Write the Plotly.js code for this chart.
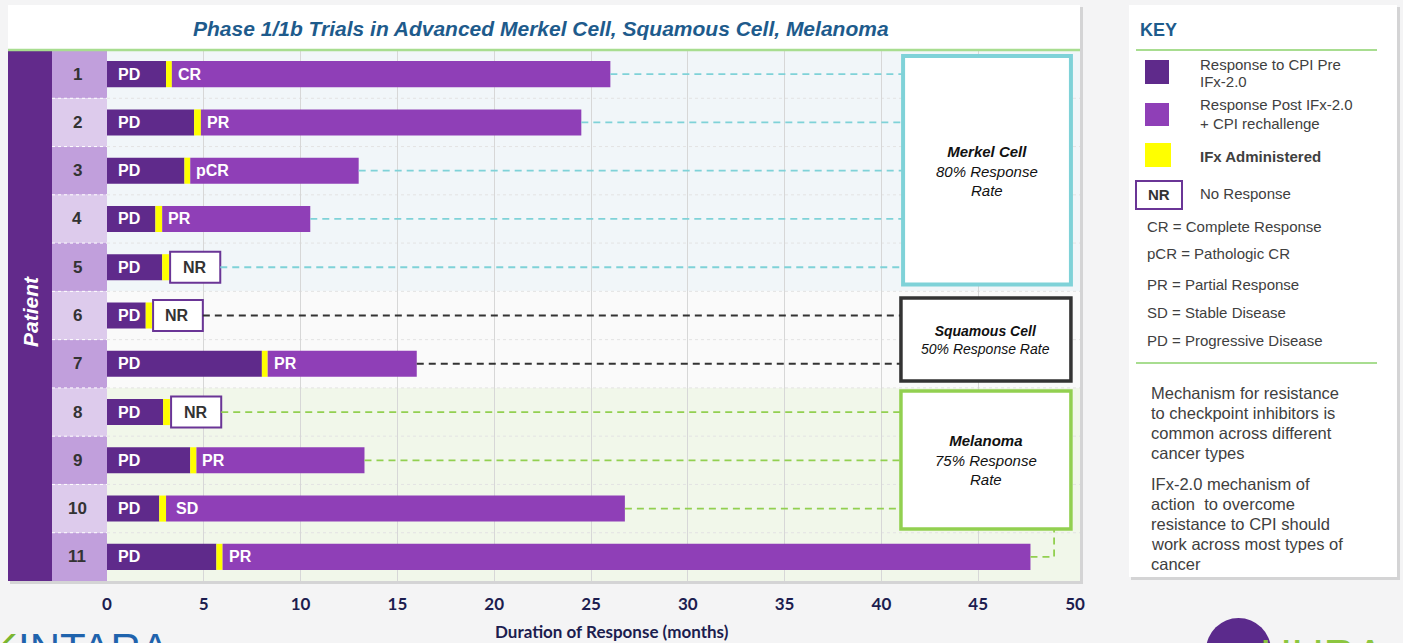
<!DOCTYPE html>
<html><head><meta charset="utf-8">
<script src="https://cdn.plot.ly/plotly-3.0.1.min.js"></script>
<style>html,body{margin:0;padding:0;background:#f4f4f5;overflow:hidden}#chart{width:1403px;height:643px;}</style>
</head><body><div id="chart"></div>
<script>
// ---------------- DATA ----------------
const patients = [1, 2, 3, 4, 5, 6, 7, 8, 9, 10, 11];
const preCpiEnd = [3.05, 4.5, 4.0, 2.5, 2.85, 2.0, 8.0, 2.9, 4.3, 2.7, 5.65];      // response to CPI pre IFx-2.0 (PD)
const ifxEnd = [3.35, 4.85, 4.3, 2.85, 3.2, 2.32, 8.3, 3.25, 4.62, 3.05, 5.97];    // IFx administered
const responseEnd = [26.0, 24.5, 13.0, 10.5, 5.85, 4.95, 16.0, 5.9, 13.3, 26.75, 47.7];
const preLabels = ['PD','PD','PD','PD','PD','PD','PD','PD','PD','PD','PD'];
const responseLabels = ['CR','PR','pCR','PR','NR','NR','PR','NR','PR','SD','PR'];
const cancerGroup = [0,0,0,0,0,1,1,2,2,2,2];
const groupNames = ['Merkel Cell', 'Squamous Cell', 'Melanoma'];
const groupRates = ['80% Response<br>Rate', '50% Response Rate', '75% Response<br>Rate'];
const xTicks = [0, 5, 10, 15, 20, 25, 30, 35, 40, 45, 50];
const keyItems = ['Response to CPI Pre<br>IFx-2.0', 'Response Post IFx-2.0<br>+ CPI rechallenge', '<b>IFx Administered</b>', 'No Response'];
const keyDefs = ['CR = Complete Response', 'pCR = Pathologic CR', 'PR = Partial Response', 'SD = Stable Disease', 'PD = Progressive Disease'];
const keyNotes = [
  ['Mechanism for resistance', 'to checkpoint inhibitors is', 'common across different', 'cancer types'],
  ['IFx-2.0 mechanism of', 'action  to overcome', 'resistance to CPI should', 'work across most types of', 'cancer']
];

// ---------------- STYLE ----------------
const DARK = '#5f2a8b', LIGHT = '#8f3fb7', YEL = '#ffff00', NRLINE = '#6a3596';
const FONT = 'Liberation Sans, Arial, sans-serif';
const groupLine = ['#7fd2d8', '#333333', '#92d050'];
const groupBg = ['#f1f6f9', '#fafafa', '#f1f7ea'];
// box positions (layout, in data units)
const boxPos = [
  {x0: 41.12, x1: 49.79, y0: 0.624, y1: 5.358, w: 4, ty: 3.0},
  {x0: 41.01, x1: 49.79, y0: 5.638, y1: 7.357, w: 3.5, ty: 6.5},
  {x0: 41.01, x1: 49.79, y0: 7.564, y1: 10.423, w: 3.5, ty: 9.0}
];
const elbowX = 48.92;

const L = 107, R = 328, T = 50, B = 62, W = 1403, H = 643;
const PW = W - L - R, PH = H - T - B;
const PX = px => (px - L) / PW;
const PY = py => (H - B - py) / PH;

// ---------------- TRACES ----------------
const traces = [];
traces.push({type:'bar', orientation:'h', y: patients, x: preCpiEnd, base: 0, width: 0.54,
  marker:{color: DARK, line:{width:0}}, hoverinfo:'skip', showlegend:false});
traces.push({type:'bar', orientation:'h', y: patients, x: ifxEnd.map((v,i)=>v-preCpiEnd[i]), base: preCpiEnd, width: 0.54,
  marker:{color: YEL, line:{width:0}}, hoverinfo:'skip', showlegend:false});
const respIdx = patients.map((p,i)=>i).filter(i=>responseLabels[i] !== 'NR');
const nrIdx = patients.map((p,i)=>i).filter(i=>responseLabels[i] === 'NR');
traces.push({type:'bar', orientation:'h', y: respIdx.map(i=>patients[i]), x: respIdx.map(i=>responseEnd[i]-ifxEnd[i]),
  base: respIdx.map(i=>ifxEnd[i]), width: 0.54, marker:{color: LIGHT, line:{width:0}}, hoverinfo:'skip', showlegend:false});
traces.push({type:'bar', orientation:'h', y: nrIdx.map(i=>patients[i]), x: nrIdx.map(i=>responseEnd[i]-ifxEnd[i]-0.06),
  base: nrIdx.map(i=>ifxEnd[i]+0.06), width: 0.64, marker:{color: '#ffffff', line:{width:2, color: NRLINE}}, hoverinfo:'skip', showlegend:false});

// connectors
for (let g = 0; g < 3; g++) {
  const xs = [], ys = [];
  patients.forEach((p,i)=>{
    if (cancerGroup[i] !== g) return;
    const bp = boxPos[g];
    if (p > bp.y1) { xs.push(responseEnd[i], elbowX, elbowX, null); ys.push(p, p, bp.y1, null); }
    else { xs.push(responseEnd[i], bp.x0, null); ys.push(p, p, null); }
  });
  traces.push({type:'scatter', mode:'lines', x: xs, y: ys, line:{color: groupLine[g], width: g===1?2:1.8, dash: '7px,5px'},
    hoverinfo:'skip', showlegend:false, connectgaps:false});
}

// ---------------- SHAPES ----------------
const shapes = [];
shapes.push({type:'rect', xref:'paper', yref:'paper', x0:PX(10), x1:PX(1083), y0:PY(584), y1:PY(7), fillcolor:'rgba(0,0,0,0.13)', line:{width:0}, layer:'below'});
shapes.push({type:'rect', xref:'paper', yref:'paper', x0:PX(8), x1:PX(1080), y0:PY(581), y1:PY(5), fillcolor:'#ffffff', line:{width:0}, layer:'below'});
shapes.push({type:'rect', xref:'paper', yref:'paper', x0:PX(1131), x1:PX(1400), y0:PY(580), y1:PY(7), fillcolor:'rgba(0,0,0,0.13)', line:{width:0}, layer:'below'});
shapes.push({type:'rect', xref:'paper', yref:'paper', x0:PX(1129), x1:PX(1397), y0:PY(577), y1:PY(5), fillcolor:'#ffffff', line:{width:0}, layer:'below'});
const groupRows = [[0.5,5.5],[5.5,7.5],[7.5,11.5]];
groupRows.forEach((r,g)=>shapes.push({type:'rect', xref:'paper', yref:'y', x0:0, x1:PX(1080), y0:r[0], y1:r[1], fillcolor:groupBg[g], line:{width:0}, layer:'below'}));
for (let k = 1; k < patients.length; k++) {
  shapes.push({type:'line', xref:'paper', yref:'y', x0:0, x1:PX(1080), y0:k+0.5, y1:k+0.5, line:{color:'#e3e3e3', width:1, dash:'dot'}, layer:'below'});
}
shapes.push({type:'rect', xref:'paper', yref:'y', x0:PX(8), x1:PX(52), y0:0.5, y1:11.5, fillcolor:'#622a8b', line:{width:0}, layer:'below'});
patients.forEach((p,i)=>{
  shapes.push({type:'rect', xref:'paper', yref:'y', x0:PX(52), x1:0, y0:p-0.5, y1:p+0.5, fillcolor: i%2===0 ? '#c19fdc' : '#ddcbec', line:{width:0}, layer:'below'});
  if (i>0) shapes.push({type:'line', xref:'paper', yref:'y', x0:PX(52), x1:0, y0:p-0.5, y1:p-0.5, line:{color:'#ffffff', width:1, dash:'dot'}, layer:'below'});
});
shapes.push({type:'line', xref:'paper', yref:'paper', x0:PX(8), x1:PX(1080), y0:PY(50), y1:PY(50), line:{color:'#a8dd90', width:2.5}, layer:'above'});
boxPos.forEach((b,g)=>shapes.push({type:'rect', xref:'x', yref:'y', x0:b.x0, x1:b.x1, y0:b.y0, y1:b.y1, fillcolor:'#ffffff', line:{color:groupLine[g], width:b.w}, layer:'above'}));
shapes.push({type:'line', xref:'paper', yref:'paper', x0:PX(1136), x1:PX(1377), y0:PY(50), y1:PY(50), line:{color:'#a8dd90', width:2}});
shapes.push({type:'line', xref:'paper', yref:'paper', x0:PX(1136), x1:PX(1377), y0:PY(363), y1:PY(363), line:{color:'#a8dd90', width:2}});
shapes.push({type:'rect', xref:'paper', yref:'paper', x0:PX(1145), x1:PX(1169), y0:PY(84), y1:PY(60), fillcolor:DARK, line:{width:0}});
shapes.push({type:'rect', xref:'paper', yref:'paper', x0:PX(1145), x1:PX(1169), y0:PY(126), y1:PY(103), fillcolor:LIGHT, line:{width:0}});
shapes.push({type:'rect', xref:'paper', yref:'paper', x0:PX(1145), x1:PX(1171), y0:PY(167), y1:PY(143), fillcolor:YEL, line:{width:0}});
shapes.push({type:'rect', xref:'paper', yref:'paper', x0:PX(1136), x1:PX(1182), y0:PY(209), y1:PY(181), fillcolor:'#ffffff', line:{color:NRLINE, width:2}});
shapes.push({type:'circle', xref:'paper', yref:'paper', x0:PX(1206), x1:PX(1271), y0:PY(683), y1:PY(618), fillcolor:'#5b2a8c', line:{width:0}});

// ---------------- ANNOTATIONS ----------------
const ann = [];
const A = (o) => ann.push(Object.assign({showarrow:false, font:{family:FONT, size:15, color:'#404040'}}, o));
A({text:'<b><i>Phase 1/1b Trials in Advanced Merkel Cell, Squamous Cell, Melanoma</i></b>', xref:'paper', yref:'paper', x:PX(541), y:PY(28), xanchor:'center', yanchor:'middle', font:{family:FONT, size:21, color:'#1e5b8c'}});
A({text:'<b><i>Patient</i></b>', textangle:-90, xref:'paper', yref:'paper', x:PX(30), y:PY(312), xanchor:'center', yanchor:'middle', font:{family:FONT, size:21, color:'#ffffff'}});
patients.forEach((p,i)=>{
  A({text:'<b>'+p+'</b>', xref:'paper', yref:'y', x:PX(77), y:p, xanchor:'center', yanchor:'middle', font:{family:FONT, size:17, color:'#333333'}});
  A({text:'<b>'+preLabels[i]+'</b>', xref:'x', yref:'y', x:0, y:p, xanchor:'left', yanchor:'middle', xshift:9, font:{family:FONT, size:16, color:'#ffffff'}});
  if (responseLabels[i] === 'NR') {
    A({text:'<b>NR</b>', xref:'x', yref:'y', x:(ifxEnd[i]+responseEnd[i])/2, y:p, xanchor:'center', yanchor:'middle', font:{family:FONT, size:16, color:'#333333'}});
  } else {
    A({text:'<b>'+responseLabels[i]+'</b>', xref:'x', yref:'y', x:ifxEnd[i], y:p, xanchor:'left', yanchor:'middle', xshift: responseLabels[i]==='SD'?8:4, font:{family:FONT, size:16, color:'#ffffff'}});
  }
});
boxPos.forEach((b,g)=>{
  A({text:'<b><i>'+groupNames[g]+'</i></b><br><i>'+groupRates[g]+'</i>', xref:'x', yref:'y', x:(b.x0+b.x1)/2, y:b.ty, xanchor:'center', yanchor:'middle',
     font:{family:FONT, size: g===1?14:15, color:'#111111'}});
});
A({text:'<b>Duration of Response (months)</b>', xref:'paper', yref:'paper', x:PX(612), y:PY(632), xanchor:'center', yanchor:'middle', font:{family:'Lato, sans-serif', size:17, color:'#1c1d4f'}});
A({text:'<b>KEY</b>', xref:'paper', yref:'paper', x:PX(1138), y:PY(30), xanchor:'left', yanchor:'middle', font:{family:FONT, size:18, color:'#1e5b8c'}});
const keyY = [73, 114, 156, 193];
keyItems.forEach((t,k)=>{
  t.split('<br>').forEach((ln, j, arr)=>{
    const yy = keyY[k] + (arr.length>1 ? (j===0?-9:9) : 0);
    A({text:ln, xref:'paper', yref:'paper', x:PX(1198), y:PY(yy), xanchor:'left', yanchor:'middle'});
  });
});
A({text:'<b>NR</b>', xref:'paper', yref:'paper', x:PX(1159), y:PY(195), xanchor:'center', yanchor:'middle', font:{family:FONT, size:15, color:'#333333'}});
const defY = [226, 253, 284, 312, 341];
keyDefs.forEach((t,k)=>A({text:t, xref:'paper', yref:'paper', x:PX(1145), y:PY(defY[k]), xanchor:'left', yanchor:'middle'}));
const noteY0 = [393, 484];
keyNotes.forEach((para,k)=>para.forEach((ln,j)=>A({text:ln, xref:'paper', yref:'paper', x:PX(1149), y:PY(noteY0[k]+20*j), xanchor:'left', yanchor:'middle', font:{family:FONT, size:16.5, color:'#404040'}})));
A({text:'<span style="color:#7ab631">K</span>INTARA', xref:'paper', yref:'paper', x:PX(-12), y:PY(648), xanchor:'left', yanchor:'middle', font:{family:FONT, size:42, color:'#1f63ad'}});
A({text:'HURA', xref:'paper', yref:'paper', x:PX(1258), y:PY(655), xanchor:'left', yanchor:'middle', font:{family:FONT, size:44, color:'#8cc63f'}});

const layout = {
  width: W, height: H,
  margin: {l:L, r:R, t:T, b:B, pad:0},
  paper_bgcolor: '#f4f4f5', plot_bgcolor: 'rgba(0,0,0,0)',
  barmode: 'overlay', showlegend: false,
  xaxis: {range:[0,50], tickvals:xTicks, ticktext:xTicks.map(String), showgrid:true, gridcolor:'#d7d7d7', gridwidth:1,
          zeroline:false, showline:false, ticks:'', ticklabelstandoff:11,
          tickfont:{family:'Lato, sans-serif', size:17, color:'#1c1d4f', weight:'bold'}, fixedrange:true},
  yaxis: {range:[11.5,0.5], showgrid:false, zeroline:false, showline:false, showticklabels:false, ticks:'', fixedrange:true},
  shapes: shapes, annotations: ann,
  font: {family: FONT}
};
Plotly.newPlot('chart', traces, layout, {displayModeBar:false, staticPlot:true});
</script>
</body></html>
